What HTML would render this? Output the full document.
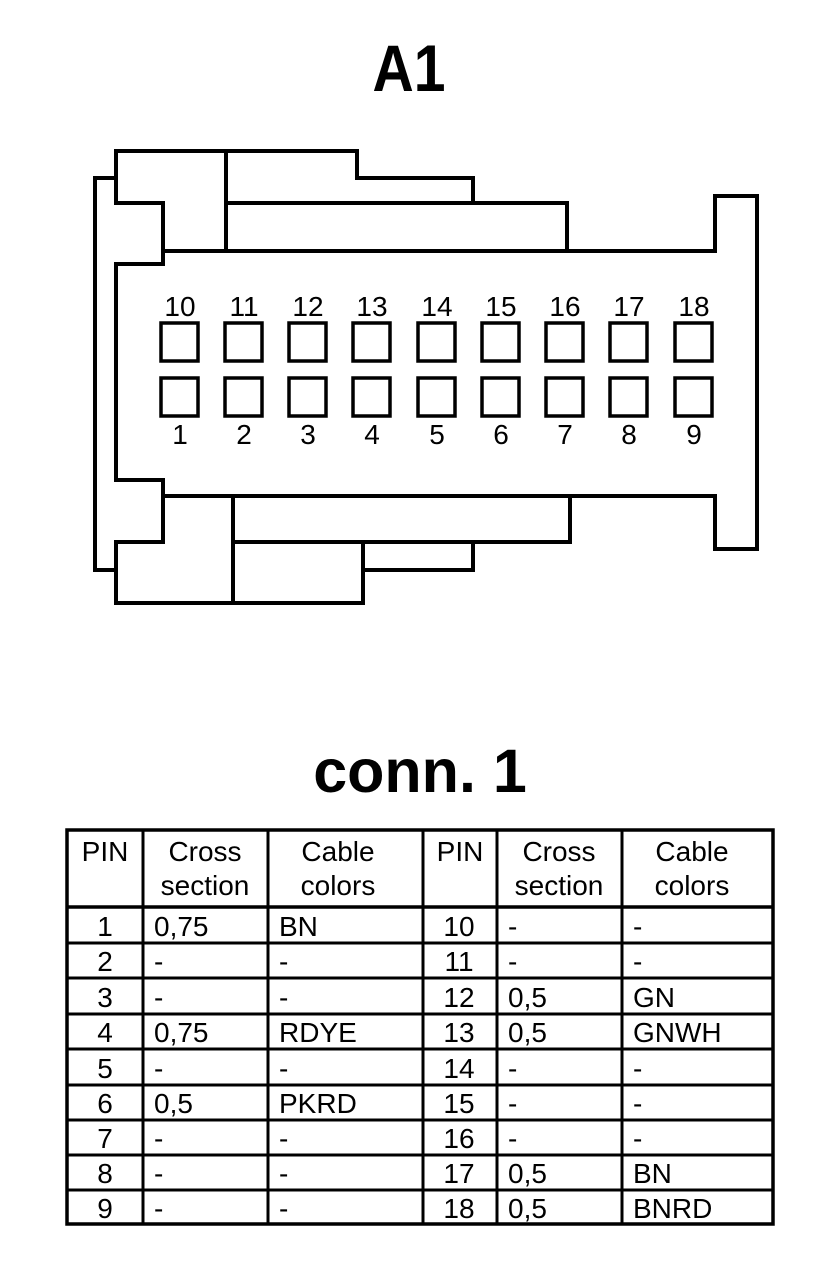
<!DOCTYPE html>
<html><head><meta charset="utf-8"><style>html,body{margin:0;padding:0;background:#fff}svg{display:block}</style></head>
<body>
<svg width="832" height="1270" viewBox="0 0 832 1270" xmlns="http://www.w3.org/2000/svg" font-family="Liberation Sans, Arial, sans-serif">
<rect width="832" height="1270" fill="#fff"/>
<text x="409" y="91" font-size="66" font-weight="bold" text-anchor="middle" textLength="73" lengthAdjust="spacingAndGlyphs">A1</text>
<g fill="none" stroke="#000" stroke-width="4" stroke-linejoin="miter">
<polyline points="116,178 95,178 95,570 116,570"/>
<polygon points="116,151 357,151 357,178 473,178 473,203 567,203 567,251 715,251 715,196 757,196 757,549 715,549 715,496 570,496 570,542 473,542 473,570 363,570 363,603 116,603 116,542 163,542 163,480 116,480 116,264 163,264 163,203 116,203"/>
<polyline points="163,251 567,251"/>
<polyline points="163,496 570,496"/>
<polyline points="226,151 226,251"/>
<polyline points="226,203 473,203"/>
<polyline points="233,496 233,603"/>
<polyline points="233,542 473,542"/>
<polyline points="363,542 363,570"/>
</g>
<g fill="none" stroke="#000" stroke-width="3.5">
<rect x="161" y="323" width="37" height="38"/><rect x="225" y="323" width="37" height="38"/><rect x="289" y="323" width="37" height="38"/><rect x="353" y="323" width="37" height="38"/><rect x="418" y="323" width="37" height="38"/><rect x="482" y="323" width="37" height="38"/><rect x="546" y="323" width="37" height="38"/><rect x="610" y="323" width="37" height="38"/><rect x="675" y="323" width="37" height="38"/>
<rect x="161" y="378" width="37" height="38"/><rect x="225" y="378" width="37" height="38"/><rect x="289" y="378" width="37" height="38"/><rect x="353" y="378" width="37" height="38"/><rect x="418" y="378" width="37" height="38"/><rect x="482" y="378" width="37" height="38"/><rect x="546" y="378" width="37" height="38"/><rect x="610" y="378" width="37" height="38"/><rect x="675" y="378" width="37" height="38"/>
</g>
<g font-size="28" text-anchor="middle">
<text x="180" y="316">10</text><text x="244" y="316">11</text><text x="308" y="316">12</text><text x="372" y="316">13</text><text x="437" y="316">14</text><text x="501" y="316">15</text><text x="565" y="316">16</text><text x="629" y="316">17</text><text x="694" y="316">18</text>
<text x="180" y="444">1</text><text x="244" y="444">2</text><text x="308" y="444">3</text><text x="372" y="444">4</text><text x="437" y="444">5</text><text x="501" y="444">6</text><text x="565" y="444">7</text><text x="629" y="444">8</text><text x="694" y="444">9</text>
</g>
<text x="420" y="792" font-size="61" font-weight="bold" text-anchor="middle">conn. 1</text>
<g stroke="#000" fill="none">
<rect x="67" y="830" width="706" height="394" stroke-width="3.5"/>
<g stroke-width="3">
<line x1="143" y1="830" x2="143" y2="1224"/><line x1="268" y1="830" x2="268" y2="1224"/><line x1="423" y1="830" x2="423" y2="1224"/><line x1="497" y1="830" x2="497" y2="1224"/><line x1="622" y1="830" x2="622" y2="1224"/>
<line x1="67" y1="907" x2="773" y2="907" stroke-width="3.5"/>
<line x1="67" y1="943" x2="773" y2="943"/><line x1="67" y1="978" x2="773" y2="978"/><line x1="67" y1="1014" x2="773" y2="1014"/><line x1="67" y1="1049" x2="773" y2="1049"/><line x1="67" y1="1085" x2="773" y2="1085"/><line x1="67" y1="1120" x2="773" y2="1120"/><line x1="67" y1="1155" x2="773" y2="1155"/><line x1="67" y1="1190" x2="773" y2="1190"/>
</g>
</g>
<g font-size="28">
<g text-anchor="middle">
<text x="105" y="861">PIN</text><text x="205" y="861">Cross</text><text x="205" y="895">section</text><text x="338" y="861">Cable</text><text x="338" y="895">colors</text>
<text x="460" y="861">PIN</text><text x="559" y="861">Cross</text><text x="559" y="895">section</text><text x="692" y="861">Cable</text><text x="692" y="895">colors</text>
<text x="105" y="936">1</text><text x="105" y="971">2</text><text x="105" y="1007">3</text><text x="105" y="1042">4</text><text x="105" y="1078">5</text><text x="105" y="1113">6</text><text x="105" y="1148">7</text><text x="105" y="1183">8</text><text x="105" y="1218">9</text>
<text x="459" y="936">10</text><text x="459" y="971">11</text><text x="459" y="1007">12</text><text x="459" y="1042">13</text><text x="459" y="1078">14</text><text x="459" y="1113">15</text><text x="459" y="1148">16</text><text x="459" y="1183">17</text><text x="459" y="1218">18</text>
</g>
<text x="154" y="936">0,75</text><text x="279" y="936">BN</text><text x="508" y="936">-</text><text x="633" y="936">-</text>
<text x="154" y="971">-</text><text x="279" y="971">-</text><text x="508" y="971">-</text><text x="633" y="971">-</text>
<text x="154" y="1007">-</text><text x="279" y="1007">-</text><text x="508" y="1007">0,5</text><text x="633" y="1007">GN</text>
<text x="154" y="1042">0,75</text><text x="279" y="1042">RDYE</text><text x="508" y="1042">0,5</text><text x="633" y="1042">GNWH</text>
<text x="154" y="1078">-</text><text x="279" y="1078">-</text><text x="508" y="1078">-</text><text x="633" y="1078">-</text>
<text x="154" y="1113">0,5</text><text x="279" y="1113">PKRD</text><text x="508" y="1113">-</text><text x="633" y="1113">-</text>
<text x="154" y="1148">-</text><text x="279" y="1148">-</text><text x="508" y="1148">-</text><text x="633" y="1148">-</text>
<text x="154" y="1183">-</text><text x="279" y="1183">-</text><text x="508" y="1183">0,5</text><text x="633" y="1183">BN</text>
<text x="154" y="1218">-</text><text x="279" y="1218">-</text><text x="508" y="1218">0,5</text><text x="633" y="1218">BNRD</text>
</g>
</svg>
</body></html>
